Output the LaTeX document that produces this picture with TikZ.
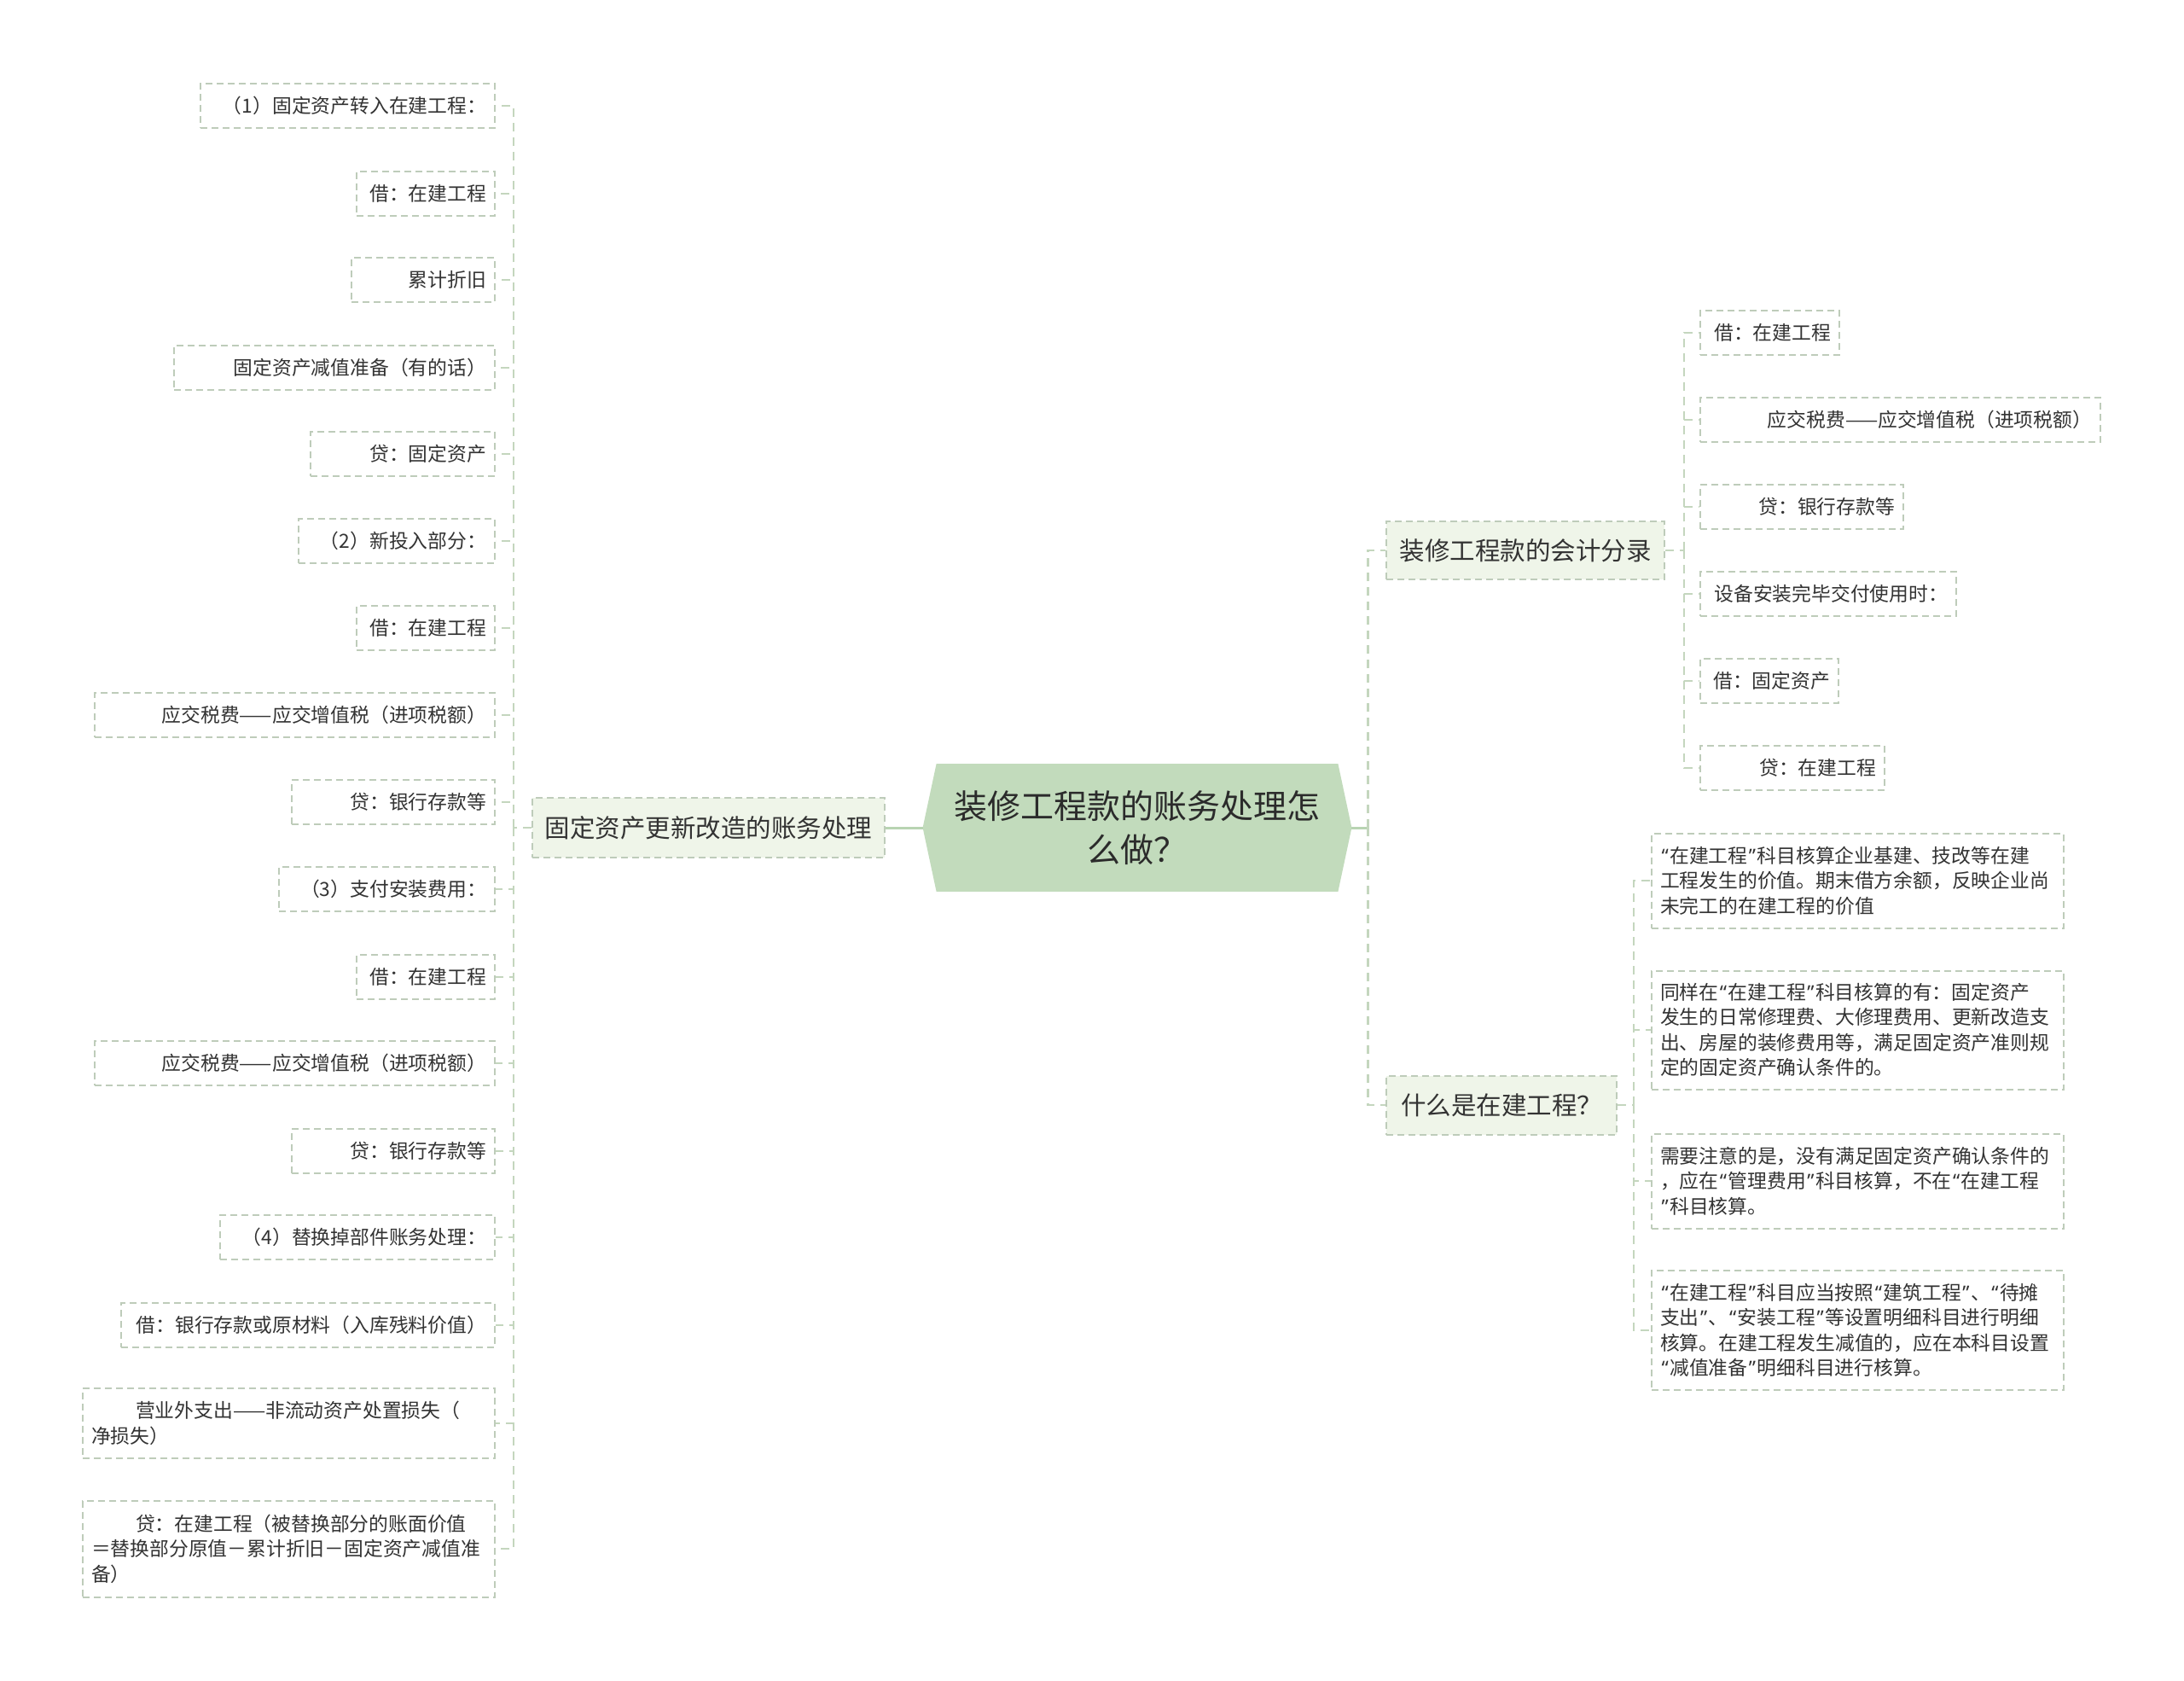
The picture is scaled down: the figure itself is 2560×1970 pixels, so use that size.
\documentclass[tikz,border=0pt]{standalone}
\usepackage{fontspec}
\setmainfont{Noto Sans CJK SC}
\newfontfamily\qfont{Noto Sans}
\usetikzlibrary{backgrounds,calc}
\definecolor{colcfill}{RGB}{194,219,188}
\definecolor{colbfill}{RGB}{239,245,233}
\definecolor{colbord}{RGB}{190,204,186}
\definecolor{colconn}{RGB}{196,214,190}
\definecolor{colsolid}{RGB}{184,212,178}
\definecolor{coltxt}{RGB}{51,51,51}
\newcommand\myoq{\makebox[5.6pt]{\qfont “}}
\newcommand\mycq{\makebox[5.6pt]{\qfont ”}}
\begin{document}
\begin{tikzpicture}[x=0.5pt,y=-0.5pt,
  leaf/.style={draw=colbord, dash pattern=on 4pt off 2.5pt, line width=1pt,
    inner xsep=5pt, inner ysep=0pt, minimum height=26pt, text=coltxt,
    align=right, font=\fontsize{11.4pt}{14.7pt}\selectfont},
  lleaf/.style={leaf, anchor=east},
  rleaf/.style={leaf, anchor=west},
  desc/.style={leaf, anchor=west, align=left, text width=231.5pt},
  branch/.style={draw=colbord, dash pattern=on 4pt off 2.5pt, line width=1pt,
    fill=colbfill, text=coltxt, inner sep=0pt, align=center,
    font=\fontsize{14.75pt}{18pt}\selectfont},
  centre/.style={inner sep=0pt, minimum width=251pt, minimum height=74.5pt,
    align=center, text={rgb,255:red,43;green,43;blue,43},
    font=\fontsize{19.5pt}{25.3pt}\selectfont},
  connd/.style={draw=colconn, line width=1.2pt, dash pattern=on 5pt off 3.5pt},
  solidln/.style={draw=colsolid, line width=1.5pt}
]
\useasboundingbox (0,0) rectangle (2560,1970);

% centre
\node[centre] (c) at (1333,970) {装修工程款的账务处理怎\\么做？};
\begin{pgfonlayer}{background}
  \fill[white] (0,0) rectangle (2560,1970);
  \fill[colcfill] (c.west) -- ($(c.north west)+(16,0)$) -- ($(c.north east)+(-16,0)$)
    -- (c.east) -- ($(c.south east)+(-16,0)$) -- ($(c.south west)+(16,0)$) -- cycle;
\end{pgfonlayer}

% branches
\node[branch, anchor=east, minimum width=206.5pt, minimum height=35pt] (bl) at (1038,970) {固定资产更新改造的账务处理};
\node[branch, anchor=west, minimum width=163pt, minimum height=34pt] (b1) at (1624,645) {装修工程款的会计分录};
\node[branch, anchor=west, minimum width=135pt, minimum height=34.5pt] (b2) at (1624,1295) {什么是在建工程？};

% left leaves
\node[lleaf, text width=162.5pt] (l1) at (581,124) {（1）固定资产转入在建工程：};
\node[lleaf, text width=71pt] (l2) at (581,227) {借：在建工程};
\node[lleaf, text width=74pt] (l3) at (581,328) {累计折旧};
\node[lleaf, text width=178pt] (l4) at (581,431) {固定资产减值准备（有的话）};
\node[lleaf, text width=98pt] (l5) at (581,532) {贷：固定资产};
\node[lleaf, text width=105pt] (l6) at (581,634) {（2）新投入部分：};
\node[lleaf, text width=71pt] (l7) at (581,736) {借：在建工程};
\node[lleaf, text width=224.5pt] (l8) at (581,838) {应交税费——应交增值税（进项税额）};
\node[lleaf, text width=109pt] (l9) at (581,940) {贷：银行存款等};
\node[lleaf, text width=116.5pt] (l10) at (581,1042) {（3）支付安装费用：};
\node[lleaf, text width=71pt] (l11) at (581,1145) {借：在建工程};
\node[lleaf, text width=224.5pt] (l12) at (581,1246) {应交税费——应交增值税（进项税额）};
\node[lleaf, text width=109pt] (l13) at (581,1349) {贷：银行存款等};
\node[lleaf, text width=151pt] (l14) at (581,1450) {（4）替换掉部件账务处理：};
\node[lleaf, text width=209pt] (l15) at (581,1553) {借：银行存款或原材料（入库残料价值）};
\node[lleaf, text width=231.5pt, align=left, minimum height=41pt] (l16) at (581,1668)
  {\hspace*{26pt}营业外支出——非流动资产处置损失（\\净损失）};
\node[lleaf, text width=231.5pt, align=left, minimum height=56.5pt] (l17) at (581,1815)
  {\hspace*{26pt}贷：在建工程（被替换部分的账面价值\\＝替换部分原值－累计折旧－固定资产减值准\\备）};

% right leaves of b1
\node[rleaf, text width=71.5pt] (r1) at (1992,390) {借：在建工程};
\node[rleaf, text width=224.5pt] (r2) at (1992,492) {应交税费——应交增值税（进项税额）};
\node[rleaf, text width=109pt] (r3) at (1992,594) {贷：银行存款等};
\node[rleaf, text width=140pt] (r4) at (1992,696) {设备安装完毕交付使用时：};
\node[rleaf, text width=71pt] (r5) at (1992,798) {借：固定资产};
\node[rleaf, text width=98pt] (r6) at (1992,900) {贷：在建工程};

% descriptions of b2
\node[desc, minimum height=55.5pt] (d1) at (1935,1032)
  {\myoq 在建工程\mycq 科目核算企业基建、技改等在建\\工程发生的价值。期末借方余额，反映企业尚\\未完工的在建工程的价值};
\node[desc, minimum height=69.5pt] (d2) at (1935,1207)
  {同样在\myoq 在建工程\mycq 科目核算的有：固定资产\\发生的日常修理费、大修理费用、更新改造支\\出、房屋的装修费用等，满足固定资产准则规\\定的固定资产确认条件的。};
\node[desc, minimum height=55.5pt] (d3) at (1935,1384)
  {需要注意的是，没有满足固定资产确认条件的\\，应在\myoq 管理费用\mycq 科目核算，不在\myoq 在建工程\\\mycq 科目核算。};
\node[desc, minimum height=70pt] (d4) at (1935,1559)
  {\myoq 在建工程\mycq 科目应当按照\myoq 建筑工程\mycq 、\myoq 待摊\\支出\mycq 、\myoq 安装工程\mycq 等设置明细科目进行明细\\核算。在建工程发生减值的，应在本科目设置\\\myoq 减值准备\mycq 明细科目进行核算。};

% connectors
\draw[solidln] (c.west) -- (bl.east);
\draw[connd] (bl.west) -- ++(-21,0) coordinate (lj);
\foreach \i in {1,...,17} \draw[connd] (lj) |- (l\i.east);

\draw[solidln] (c.east) -- ++(19,0) coordinate (rj);
\draw[connd] (rj) |- (b1.west);
\draw[connd] (rj) |- (b2.west);

\draw[connd] (b1.east) -- ++(22,0) coordinate (r1j);
\foreach \i in {1,...,6} \draw[connd] (r1j) |- (r\i.west);

\draw[connd] (b2.east) -- ++(19,0) coordinate (r2j);
\foreach \i in {1,...,4} \draw[connd] (r2j) |- (d\i.west);
\end{tikzpicture}
\end{document}
